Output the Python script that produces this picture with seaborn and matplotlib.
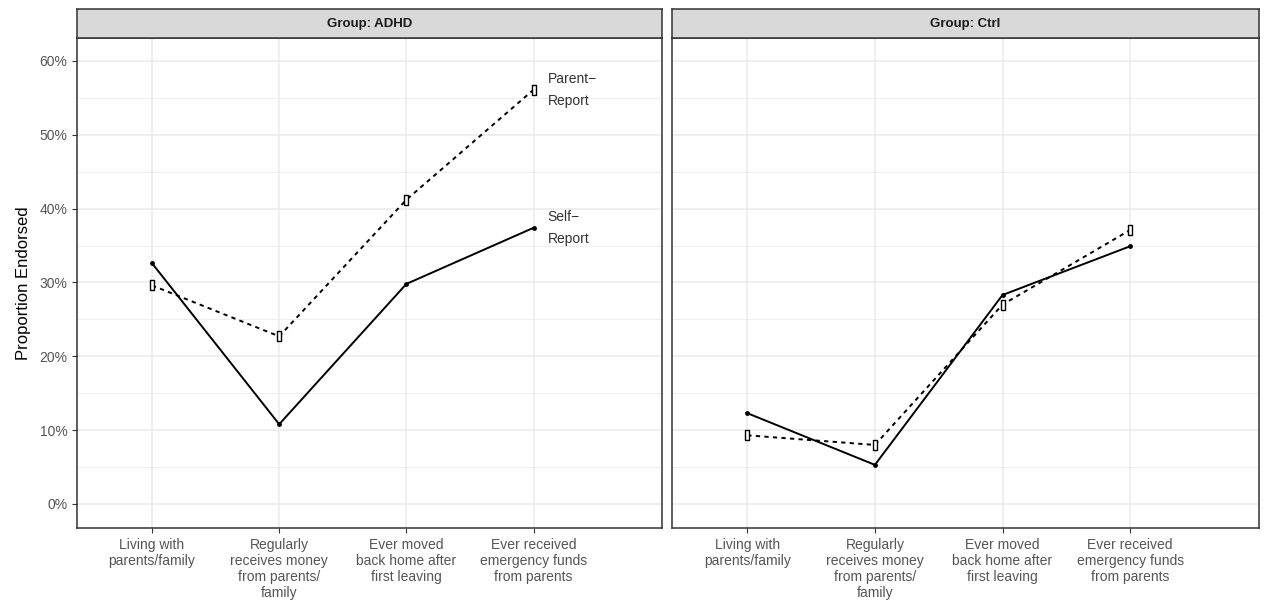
import matplotlib
matplotlib.use("Agg")
import matplotlib.pyplot as plt
import seaborn as sns
import numpy as np
import pandas as pd
from matplotlib.ticker import MultipleLocator, FuncFormatter

# --- data (percent endorsed) ---
items = ["Living with\nparents/family",
         "Regularly\nreceives money\nfrom parents/\nfamily",
         "Ever moved\nback home after\nfirst leaving",
         "Ever received\nemergency funds\nfrom parents"]
groups = ["ADHD", "Ctrl"]
adhd_self = [32.6, 10.8, 29.8, 37.4]
adhd_parent = [29.6, 22.7, 41.2, 56.1]
ctrl_self = [12.3, 5.3, 28.3, 34.9]
ctrl_parent = [9.3, 8.0, 27.0, 37.1]

rows = []
for grp, s_vals, p_vals in [("ADHD", adhd_self, adhd_parent), ("Ctrl", ctrl_self, ctrl_parent)]:
    for i in range(len(items)):
        rows.append({"group": grp, "item": i, "source": "Self", "value": s_vals[i] / 100})
        rows.append({"group": grp, "item": i, "source": "Parent", "value": p_vals[i] / 100})
df = pd.DataFrame(rows)

sns.set_theme(style="white")
plt.rcParams['font.family'] = ['Liberation Sans', 'DejaVu Sans']

fig = plt.figure(figsize=(12.66, 6.02), dpi=100)

# narrow open rectangle marker for the parent-report points
rect = [(-0.45, -1), (0.45, -1), (0.45, 1), (-0.45, 1), (-0.45, -1)]

panel_x = [(77, 662), (672, 1259)]
W, H = 1266, 602
top, bottom, strip_top = 38, 528, 9

for k, grp in enumerate(groups):
    x0, x1 = panel_x[k]
    ax = fig.add_axes([x0 / W, 1 - bottom / H, (x1 - x0) / W, (bottom - top) / H])
    sub = df[df["group"] == grp]

    ax.grid(True, which="major", color="#EBEBEB", lw=1.1, zorder=0)
    ax.grid(True, which="minor", axis="y", color="#EBEBEB", lw=0.6, zorder=0)

    sns.lineplot(data=sub[sub["source"] == "Parent"], x="item", y="value", ax=ax,
                 color="black", linestyle=(0, (2.2, 2.2)), lw=1.4,
                 marker=rect, markersize=7, markerfacecolor="white",
                 markeredgecolor="black", markeredgewidth=1.0)
    sns.lineplot(data=sub[sub["source"] == "Self"], x="item", y="value", ax=ax,
                 color="black", linestyle="-", lw=1.4,
                 marker="o", markersize=3.5, markeredgewidth=0)

    ax.set_xlim(-0.59, 4.01)
    ax.set_ylim(-0.0325, 0.631)
    ax.set_xticks(range(len(items)))
    ax.set_xticklabels(items, fontsize=10, color="#4D4D4D", linespacing=1.2)
    ax.yaxis.set_major_locator(MultipleLocator(0.1))
    ax.yaxis.set_minor_locator(MultipleLocator(0.05))
    ax.yaxis.set_major_formatter(FuncFormatter(lambda v, p: f"{v * 100:.0f}%"))
    ax.tick_params(axis="both", which="major", length=3.5, width=0.8, color="#333333",
                   labelsize=10, labelcolor="#555555", left=True, bottom=True)
    ax.tick_params(axis="y", which="minor", length=0)
    ax.set_xlabel("")
    ax.set_ylabel("")
    if k == 1:
        ax.set_yticklabels([])
        ax.tick_params(axis="y", length=0)
    else:
        ax.set_ylabel("Proportion Endorsed", fontsize=12, color="black", labelpad=6)
    for sp in ax.spines.values():
        sp.set_color("#333333")
        sp.set_linewidth(1.1)

    if grp == "ADHD":
        ax.text(3.11, adhd_parent[3] / 100, "Parent\u2212\nReport", fontsize=10,
                color="#333333", va="center", ha="left", linespacing=1.75)
        ax.text(3.11, adhd_self[3] / 100, "Self\u2212\nReport", fontsize=10,
                color="#333333", va="center", ha="left", linespacing=1.75)

    # facet strip
    sax = fig.add_axes([x0 / W, 1 - top / H, (x1 - x0) / W, (top - strip_top) / H])
    sax.set_facecolor("#D9D9D9")
    sax.set_xticks([])
    sax.set_yticks([])
    for sp in sax.spines.values():
        sp.set_color("#333333")
        sp.set_linewidth(1.1)
    sax.text(0.5, 0.5, f"Group: {grp}", ha="center", va="center", fontsize=9.5,
             fontweight="bold", color="#1A1A1A", transform=sax.transAxes)

fig.savefig("out.png", dpi=100)
